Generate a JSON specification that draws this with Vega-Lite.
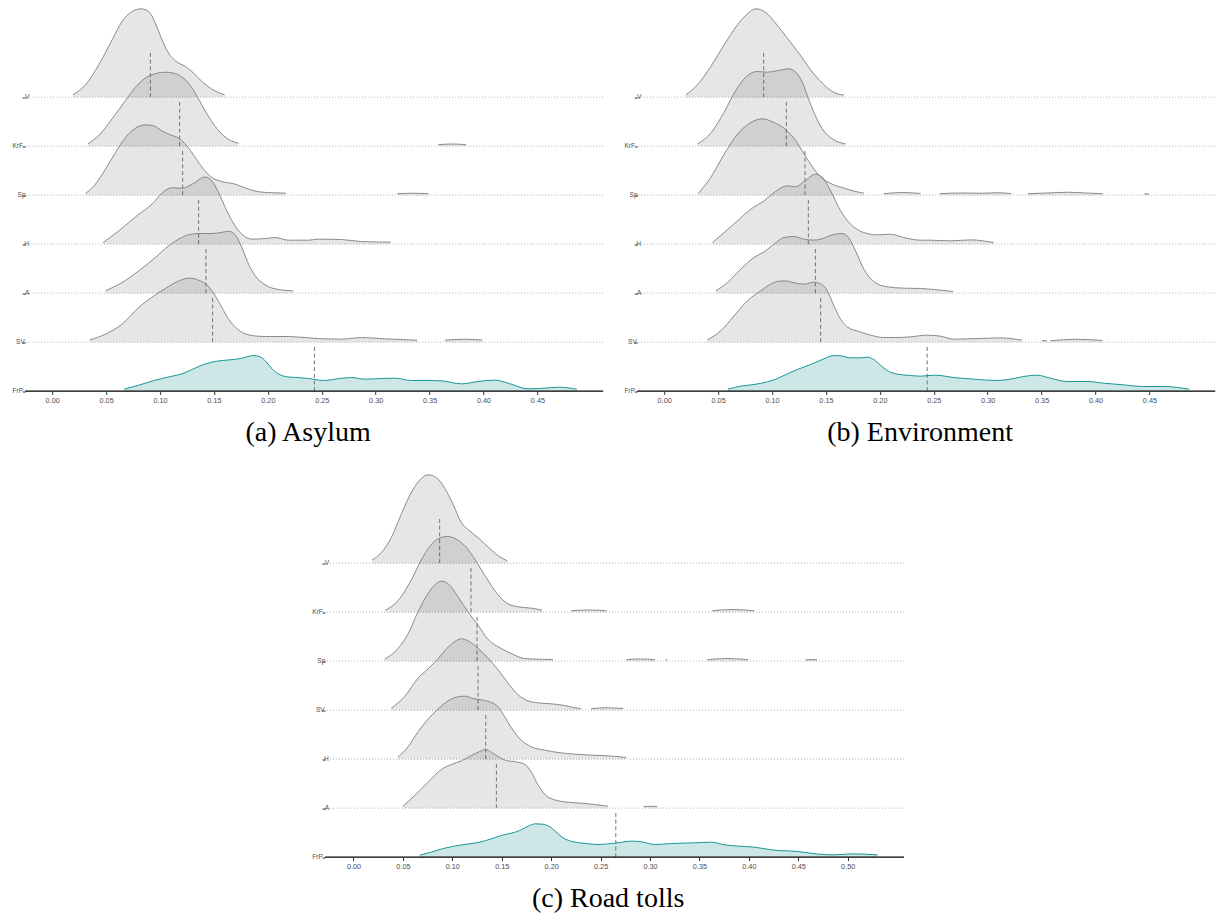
{
"$schema":"https://vega.github.io/schema/vega-lite/v6.json",
"autosize":{"type":"pad"},
"padding":{"left":12,"top":6.5,"right":0,"bottom":0},
"background":"white",
"config":{"view":{"stroke":null},"font":"Liberation Sans"},
"datasets":{
"asylum":[
{"p":"V","s":0,"x":0.0192,"d":0.48},{"p":"V","s":0,"x":0.0309,"d":2.53},{"p":"V","s":0,"x":0.0432,"d":6.64},{"p":"V","s":0,"x":0.0556,"d":11.78},{"p":"V","s":0,"x":0.0648,"d":15.55},{"p":"V","s":0,"x":0.0741,"d":17.6},{"p":"V","s":0,"x":0.0827,"d":18.15},{"p":"V","s":0,"x":0.0895,"d":17.6},{"p":"V","s":0,"x":0.0957,"d":15.2},{"p":"V","s":0,"x":0.1019,"d":11.78},{"p":"V","s":0,"x":0.108,"d":9.04},{"p":"V","s":0,"x":0.1142,"d":7.47},{"p":"V","s":0,"x":0.1235,"d":6.3},{"p":"V","s":0,"x":0.1296,"d":5.27},{"p":"V","s":0,"x":0.1389,"d":3.22},{"p":"V","s":0,"x":0.1481,"d":1.64},{"p":"V","s":0,"x":0.16,"d":0.48},
{"p":"KrF","s":0,"x":0.0333,"d":0.48},{"p":"KrF","s":0,"x":0.0432,"d":2.19},{"p":"KrF","s":0,"x":0.0556,"d":5.62},{"p":"KrF","s":0,"x":0.068,"d":9.38},{"p":"KrF","s":0,"x":0.0772,"d":12.1},{"p":"KrF","s":0,"x":0.0865,"d":14.0},{"p":"KrF","s":0,"x":0.0957,"d":14.9},{"p":"KrF","s":0,"x":0.105,"d":15.2},{"p":"KrF","s":0,"x":0.1127,"d":15.0},{"p":"KrF","s":0,"x":0.1204,"d":14.2},{"p":"KrF","s":0,"x":0.1281,"d":12.5},{"p":"KrF","s":0,"x":0.1358,"d":9.7},{"p":"KrF","s":0,"x":0.1435,"d":6.64},{"p":"KrF","s":0,"x":0.1513,"d":4.04},{"p":"KrF","s":0,"x":0.1605,"d":1.85},{"p":"KrF","s":0,"x":0.1728,"d":0.62},
{"p":"KrF","s":1,"x":0.358,"d":0.3},{"p":"KrF","s":1,"x":0.371,"d":0.45},{"p":"KrF","s":1,"x":0.384,"d":0.3},
{"p":"Sp","s":0,"x":0.0309,"d":0.34},{"p":"Sp","s":0,"x":0.0401,"d":2.26},{"p":"Sp","s":0,"x":0.0494,"d":5.34},{"p":"Sp","s":0,"x":0.0587,"d":8.77},{"p":"Sp","s":0,"x":0.068,"d":11.85},{"p":"Sp","s":0,"x":0.0772,"d":13.77},{"p":"Sp","s":0,"x":0.0865,"d":14.45},{"p":"Sp","s":0,"x":0.0942,"d":14.25},{"p":"Sp","s":0,"x":0.1019,"d":13.2},{"p":"Sp","s":0,"x":0.1096,"d":12.4},{"p":"Sp","s":0,"x":0.1173,"d":11.7},{"p":"Sp","s":0,"x":0.125,"d":10.1},{"p":"Sp","s":0,"x":0.1327,"d":7.74},{"p":"Sp","s":0,"x":0.1404,"d":5.34},{"p":"Sp","s":0,"x":0.1481,"d":3.63},{"p":"Sp","s":0,"x":0.1574,"d":2.8},{"p":"Sp","s":0,"x":0.1698,"d":2.26},{"p":"Sp","s":0,"x":0.1821,"d":1.23},{"p":"Sp","s":0,"x":0.1944,"d":0.62},{"p":"Sp","s":0,"x":0.2068,"d":0.48},{"p":"Sp","s":0,"x":0.2167,"d":0.41},
{"p":"Sp","s":1,"x":0.32,"d":0.3},{"p":"Sp","s":1,"x":0.334,"d":0.4},{"p":"Sp","s":1,"x":0.349,"d":0.3},
{"p":"H","s":0,"x":0.0472,"d":0.33},{"p":"H","s":0,"x":0.0618,"d":2.73},{"p":"H","s":0,"x":0.0803,"d":6.16},{"p":"H","s":0,"x":0.0926,"d":8.22},{"p":"H","s":0,"x":0.1019,"d":10.5},{"p":"H","s":0,"x":0.1111,"d":11.6},{"p":"H","s":0,"x":0.1204,"d":11.5},{"p":"H","s":0,"x":0.1296,"d":12.3},{"p":"H","s":0,"x":0.142,"d":13.8},{"p":"H","s":0,"x":0.1481,"d":13.0},{"p":"H","s":0,"x":0.1544,"d":10.6},{"p":"H","s":0,"x":0.1606,"d":7.5},{"p":"H","s":0,"x":0.1667,"d":4.8},{"p":"H","s":0,"x":0.1759,"d":2.05},{"p":"H","s":0,"x":0.1852,"d":1.03},{"p":"H","s":0,"x":0.1976,"d":1.15},{"p":"H","s":0,"x":0.2069,"d":1.36},{"p":"H","s":0,"x":0.219,"d":0.82},{"p":"H","s":0,"x":0.2377,"d":0.82},{"p":"H","s":0,"x":0.2469,"d":1.03},{"p":"H","s":0,"x":0.2685,"d":0.95},{"p":"H","s":0,"x":0.287,"d":0.53},{"p":"H","s":0,"x":0.3139,"d":0.41},
{"p":"A","s":0,"x":0.0494,"d":0.48},{"p":"A","s":0,"x":0.0648,"d":2.19},{"p":"A","s":0,"x":0.0803,"d":4.59},{"p":"A","s":0,"x":0.0957,"d":7.33},{"p":"A","s":0,"x":0.108,"d":9.73},{"p":"A","s":0,"x":0.1173,"d":11.1},{"p":"A","s":0,"x":0.1266,"d":12.0},{"p":"A","s":0,"x":0.1374,"d":12.26},{"p":"A","s":0,"x":0.1481,"d":12.26},{"p":"A","s":0,"x":0.1574,"d":12.5},{"p":"A","s":0,"x":0.1636,"d":12.74},{"p":"A","s":0,"x":0.1704,"d":11.8},{"p":"A","s":0,"x":0.1759,"d":9.4},{"p":"A","s":0,"x":0.1821,"d":5.96},{"p":"A","s":0,"x":0.1883,"d":3.56},{"p":"A","s":0,"x":0.1976,"d":1.71},{"p":"A","s":0,"x":0.2099,"d":0.75},{"p":"A","s":0,"x":0.2235,"d":0.48},
{"p":"SV","s":0,"x":0.0349,"d":0.48},{"p":"SV","s":0,"x":0.0494,"d":1.64},{"p":"SV","s":0,"x":0.0648,"d":3.7},{"p":"SV","s":0,"x":0.0803,"d":7.12},{"p":"SV","s":0,"x":0.0957,"d":9.73},{"p":"SV","s":0,"x":0.108,"d":11.44},{"p":"SV","s":0,"x":0.1189,"d":12.74},{"p":"SV","s":0,"x":0.1272,"d":13.15},{"p":"SV","s":0,"x":0.1358,"d":12.74},{"p":"SV","s":0,"x":0.1444,"d":11.58},{"p":"SV","s":0,"x":0.1513,"d":9.52},{"p":"SV","s":0,"x":0.1574,"d":7.12},{"p":"SV","s":0,"x":0.1636,"d":4.73},{"p":"SV","s":0,"x":0.1713,"d":2.81},{"p":"SV","s":0,"x":0.1821,"d":1.5},{"p":"SV","s":0,"x":0.1976,"d":1.16},{"p":"SV","s":0,"x":0.2192,"d":1.16},{"p":"SV","s":0,"x":0.2284,"d":1.05},{"p":"SV","s":0,"x":0.2469,"d":0.74},{"p":"SV","s":0,"x":0.2685,"d":0.62},{"p":"SV","s":0,"x":0.287,"d":0.95},{"p":"SV","s":0,"x":0.3087,"d":0.68},{"p":"SV","s":0,"x":0.3386,"d":0.41},
{"p":"SV","s":1,"x":0.3643,"d":0.4},{"p":"SV","s":1,"x":0.381,"d":0.6},{"p":"SV","s":1,"x":0.3988,"d":0.45},
{"p":"FrP","s":0,"x":0.0667,"d":0.41},{"p":"FrP","s":0,"x":0.0803,"d":1.23},{"p":"FrP","s":0,"x":0.0957,"d":2.26},{"p":"FrP","s":0,"x":0.1111,"d":3.08},{"p":"FrP","s":0,"x":0.1204,"d":3.56},{"p":"FrP","s":0,"x":0.1296,"d":4.45},{"p":"FrP","s":0,"x":0.1389,"d":5.34},{"p":"FrP","s":0,"x":0.1481,"d":5.96},{"p":"FrP","s":0,"x":0.1574,"d":6.3},{"p":"FrP","s":0,"x":0.1682,"d":6.5},{"p":"FrP","s":0,"x":0.1744,"d":6.7},{"p":"FrP","s":0,"x":0.1806,"d":7.05},{"p":"FrP","s":0,"x":0.1867,"d":7.33},{"p":"FrP","s":0,"x":0.193,"d":7.05},{"p":"FrP","s":0,"x":0.1985,"d":6.03},{"p":"FrP","s":0,"x":0.2044,"d":4.45},{"p":"FrP","s":0,"x":0.2115,"d":3.36},{"p":"FrP","s":0,"x":0.2207,"d":2.88},{"p":"FrP","s":0,"x":0.2284,"d":2.8},{"p":"FrP","s":0,"x":0.2377,"d":2.6},{"p":"FrP","s":0,"x":0.2516,"d":2.19},{"p":"FrP","s":0,"x":0.2685,"d":2.67},{"p":"FrP","s":0,"x":0.2778,"d":2.8},{"p":"FrP","s":0,"x":0.2902,"d":2.47},{"p":"FrP","s":0,"x":0.3041,"d":2.6},{"p":"FrP","s":0,"x":0.318,"d":2.67},{"p":"FrP","s":0,"x":0.3333,"d":2.19},{"p":"FrP","s":0,"x":0.3488,"d":2.19},{"p":"FrP","s":0,"x":0.3611,"d":2.12},{"p":"FrP","s":0,"x":0.3796,"d":1.5},{"p":"FrP","s":0,"x":0.3951,"d":1.99},{"p":"FrP","s":0,"x":0.4106,"d":2.26},{"p":"FrP","s":0,"x":0.4229,"d":1.64},{"p":"FrP","s":0,"x":0.4414,"d":0.48},{"p":"FrP","s":0,"x":0.4568,"d":0.62},{"p":"FrP","s":0,"x":0.4692,"d":0.82},{"p":"FrP","s":0,"x":0.4865,"d":0.41},
{"p":"V","x":0.0911},{"p":"KrF","x":0.1182},{"p":"Sp","x":0.121},{"p":"H","x":0.1358},{"p":"A","x":0.1426},{"p":"SV","x":0.1488},{"p":"FrP","x":0.2432}
],
"env":[
{"p":"V","s":0,"x":0.0201,"d":0.48},{"p":"V","s":0,"x":0.0309,"d":2.53},{"p":"V","s":0,"x":0.0432,"d":6.3},{"p":"V","s":0,"x":0.0556,"d":10.75},{"p":"V","s":0,"x":0.068,"d":14.86},{"p":"V","s":0,"x":0.0772,"d":17.12},{"p":"V","s":0,"x":0.0849,"d":18.15},{"p":"V","s":0,"x":0.0942,"d":17.4},{"p":"V","s":0,"x":0.1034,"d":15.2},{"p":"V","s":0,"x":0.1142,"d":12.12},{"p":"V","s":0,"x":0.125,"d":9.04},{"p":"V","s":0,"x":0.1358,"d":5.62},{"p":"V","s":0,"x":0.1467,"d":2.88},{"p":"V","s":0,"x":0.1559,"d":1.16},{"p":"V","s":0,"x":0.1667,"d":0.41},
{"p":"KrF","s":0,"x":0.0309,"d":0.48},{"p":"KrF","s":0,"x":0.0432,"d":2.67},{"p":"KrF","s":0,"x":0.0556,"d":6.99},{"p":"KrF","s":0,"x":0.0664,"d":11.44},{"p":"KrF","s":0,"x":0.0772,"d":14.5},{"p":"KrF","s":0,"x":0.0864,"d":15.34},{"p":"KrF","s":0,"x":0.0957,"d":15.2},{"p":"KrF","s":0,"x":0.105,"d":15.5},{"p":"KrF","s":0,"x":0.1157,"d":15.9},{"p":"KrF","s":0,"x":0.1228,"d":15.0},{"p":"KrF","s":0,"x":0.1281,"d":13.15},{"p":"KrF","s":0,"x":0.1333,"d":10.07},{"p":"KrF","s":0,"x":0.1395,"d":6.64},{"p":"KrF","s":0,"x":0.1467,"d":3.56},{"p":"KrF","s":0,"x":0.1559,"d":1.5},{"p":"KrF","s":0,"x":0.1682,"d":0.48},
{"p":"Sp","s":0,"x":0.0315,"d":0.34},{"p":"Sp","s":0,"x":0.0432,"d":3.63},{"p":"Sp","s":0,"x":0.0556,"d":8.42},{"p":"Sp","s":0,"x":0.068,"d":12.53},{"p":"Sp","s":0,"x":0.0803,"d":14.93},{"p":"Sp","s":0,"x":0.0911,"d":15.68},{"p":"Sp","s":0,"x":0.1019,"d":14.93},{"p":"Sp","s":0,"x":0.1111,"d":13.77},{"p":"Sp","s":0,"x":0.1198,"d":11.85},{"p":"Sp","s":0,"x":0.1281,"d":9.1},{"p":"Sp","s":0,"x":0.1358,"d":6.37},{"p":"Sp","s":0,"x":0.1451,"d":3.77},{"p":"Sp","s":0,"x":0.1559,"d":2.26},{"p":"Sp","s":0,"x":0.1667,"d":1.44},{"p":"Sp","s":0,"x":0.1775,"d":0.75},{"p":"Sp","s":0,"x":0.1852,"d":0.41},
{"p":"Sp","s":1,"x":0.2037,"d":0.3},{"p":"Sp","s":1,"x":0.221,"d":0.55},{"p":"Sp","s":1,"x":0.2377,"d":0.35},
{"p":"Sp","s":2,"x":0.2556,"d":0.3},{"p":"Sp","s":2,"x":0.275,"d":0.45},{"p":"Sp","s":2,"x":0.295,"d":0.4},{"p":"Sp","s":2,"x":0.31,"d":0.5},{"p":"Sp","s":2,"x":0.3217,"d":0.3},
{"p":"Sp","s":3,"x":0.3374,"d":0.3},{"p":"Sp","s":3,"x":0.355,"d":0.45},{"p":"Sp","s":3,"x":0.375,"d":0.6},{"p":"Sp","s":3,"x":0.39,"d":0.45},{"p":"Sp","s":3,"x":0.4069,"d":0.3},
{"p":"Sp","s":4,"x":0.4454,"d":0.25},{"p":"Sp","s":4,"x":0.4497,"d":0.25},
{"p":"H","s":0,"x":0.0448,"d":0.33},{"p":"H","s":0,"x":0.0556,"d":2.38},{"p":"H","s":0,"x":0.068,"d":4.79},{"p":"H","s":0,"x":0.0803,"d":7.19},{"p":"H","s":0,"x":0.0926,"d":8.9},{"p":"H","s":0,"x":0.1019,"d":10.6},{"p":"H","s":0,"x":0.1142,"d":11.98},{"p":"H","s":0,"x":0.1219,"d":11.77},{"p":"H","s":0,"x":0.1296,"d":12.86},{"p":"H","s":0,"x":0.1405,"d":14.38},{"p":"H","s":0,"x":0.1481,"d":13.36},{"p":"H","s":0,"x":0.1544,"d":10.95},{"p":"H","s":0,"x":0.1636,"d":6.84},{"p":"H","s":0,"x":0.1729,"d":4.1},{"p":"H","s":0,"x":0.1852,"d":2.38},{"p":"H","s":0,"x":0.1976,"d":1.91},{"p":"H","s":0,"x":0.2099,"d":2.05},{"p":"H","s":0,"x":0.2222,"d":1.36},{"p":"H","s":0,"x":0.2377,"d":0.82},{"p":"H","s":0,"x":0.2469,"d":0.82},{"p":"H","s":0,"x":0.2655,"d":0.68},{"p":"H","s":0,"x":0.284,"d":0.88},{"p":"H","s":0,"x":0.3056,"d":0.33},
{"p":"A","s":0,"x":0.0479,"d":0.48},{"p":"A","s":0,"x":0.0587,"d":2.19},{"p":"A","s":0,"x":0.071,"d":4.93},{"p":"A","s":0,"x":0.0833,"d":7.33},{"p":"A","s":0,"x":0.0926,"d":8.49},{"p":"A","s":0,"x":0.1019,"d":10.07},{"p":"A","s":0,"x":0.1111,"d":11.44},{"p":"A","s":0,"x":0.1204,"d":11.64},{"p":"A","s":0,"x":0.1296,"d":11.1},{"p":"A","s":0,"x":0.1389,"d":10.9},{"p":"A","s":0,"x":0.1481,"d":11.3},{"p":"A","s":0,"x":0.1559,"d":12.0},{"p":"A","s":0,"x":0.1652,"d":12.26},{"p":"A","s":0,"x":0.1713,"d":11.3},{"p":"A","s":0,"x":0.1775,"d":8.7},{"p":"A","s":0,"x":0.1852,"d":4.93},{"p":"A","s":0,"x":0.1944,"d":2.4},{"p":"A","s":0,"x":0.2068,"d":1.3},{"p":"A","s":0,"x":0.2222,"d":1.03},{"p":"A","s":0,"x":0.2377,"d":0.96},{"p":"A","s":0,"x":0.2469,"d":0.82},{"p":"A","s":0,"x":0.268,"d":0.34},
{"p":"SV","s":0,"x":0.0401,"d":0.48},{"p":"SV","s":0,"x":0.0525,"d":2.33},{"p":"SV","s":0,"x":0.0648,"d":5.41},{"p":"SV","s":0,"x":0.0772,"d":8.49},{"p":"SV","s":0,"x":0.0895,"d":10.55},{"p":"SV","s":0,"x":0.0988,"d":11.92},{"p":"SV","s":0,"x":0.1065,"d":12.53},{"p":"SV","s":0,"x":0.1127,"d":12.6},{"p":"SV","s":0,"x":0.1204,"d":12.2},{"p":"SV","s":0,"x":0.1296,"d":11.92},{"p":"SV","s":0,"x":0.1389,"d":12.33},{"p":"SV","s":0,"x":0.1457,"d":11.92},{"p":"SV","s":0,"x":0.1513,"d":10.55},{"p":"SV","s":0,"x":0.1574,"d":7.47},{"p":"SV","s":0,"x":0.1636,"d":4.73},{"p":"SV","s":0,"x":0.1698,"d":3.15},{"p":"SV","s":0,"x":0.1806,"d":2.19},{"p":"SV","s":0,"x":0.1914,"d":1.44},{"p":"SV","s":0,"x":0.2037,"d":0.96},{"p":"SV","s":0,"x":0.2161,"d":0.96},{"p":"SV","s":0,"x":0.2284,"d":1.1},{"p":"SV","s":0,"x":0.2439,"d":1.44},{"p":"SV","s":0,"x":0.2562,"d":1.23},{"p":"SV","s":0,"x":0.2685,"d":0.62},{"p":"SV","s":0,"x":0.2902,"d":0.74},{"p":"SV","s":0,"x":0.3118,"d":0.88},{"p":"SV","s":0,"x":0.3318,"d":0.41},
{"p":"SV","s":1,"x":0.3504,"d":0.3},{"p":"SV","s":1,"x":0.355,"d":0.3},
{"p":"SV","s":2,"x":0.358,"d":0.3},{"p":"SV","s":2,"x":0.3828,"d":0.6},{"p":"SV","s":2,"x":0.4065,"d":0.35},
{"p":"FrP","s":0,"x":0.0593,"d":0.41},{"p":"FrP","s":0,"x":0.071,"d":1.03},{"p":"FrP","s":0,"x":0.0833,"d":1.37},{"p":"FrP","s":0,"x":0.0957,"d":1.92},{"p":"FrP","s":0,"x":0.105,"d":2.6},{"p":"FrP","s":0,"x":0.1142,"d":3.56},{"p":"FrP","s":0,"x":0.1235,"d":4.45},{"p":"FrP","s":0,"x":0.1358,"d":5.48},{"p":"FrP","s":0,"x":0.1481,"d":6.64},{"p":"FrP","s":0,"x":0.1574,"d":7.33},{"p":"FrP","s":0,"x":0.1636,"d":7.26},{"p":"FrP","s":0,"x":0.1729,"d":6.85},{"p":"FrP","s":0,"x":0.1821,"d":6.85},{"p":"FrP","s":0,"x":0.1883,"d":6.99},{"p":"FrP","s":0,"x":0.1944,"d":6.5},{"p":"FrP","s":0,"x":0.2006,"d":5.34},{"p":"FrP","s":0,"x":0.2068,"d":4.25},{"p":"FrP","s":0,"x":0.2161,"d":3.5},{"p":"FrP","s":0,"x":0.2284,"d":3.22},{"p":"FrP","s":0,"x":0.2377,"d":3.08},{"p":"FrP","s":0,"x":0.2516,"d":3.29},{"p":"FrP","s":0,"x":0.2685,"d":2.81},{"p":"FrP","s":0,"x":0.287,"d":2.47},{"p":"FrP","s":0,"x":0.3087,"d":2.19},{"p":"FrP","s":0,"x":0.321,"d":2.47},{"p":"FrP","s":0,"x":0.3333,"d":3.01},{"p":"FrP","s":0,"x":0.3457,"d":3.29},{"p":"FrP","s":0,"x":0.358,"d":2.67},{"p":"FrP","s":0,"x":0.3735,"d":1.99},{"p":"FrP","s":0,"x":0.392,"d":1.99},{"p":"FrP","s":0,"x":0.4074,"d":1.64},{"p":"FrP","s":0,"x":0.4259,"d":1.3},{"p":"FrP","s":0,"x":0.4444,"d":0.96},{"p":"FrP","s":0,"x":0.463,"d":0.96},{"p":"FrP","s":0,"x":0.487,"d":0.41},
{"p":"V","x":0.0923},{"p":"KrF","x":0.1133},{"p":"Sp","x":0.1306},{"p":"H","x":0.1337},{"p":"A","x":0.1402},{"p":"SV","x":0.1451},{"p":"FrP","x":0.2439}
],
"road":[
{"p":"V","s":0,"x":0.0187,"d":0.62},{"p":"V","s":0,"x":0.0282,"d":2.19},{"p":"V","s":0,"x":0.0383,"d":5.27},{"p":"V","s":0,"x":0.0484,"d":10.07},{"p":"V","s":0,"x":0.0585,"d":14.52},{"p":"V","s":0,"x":0.067,"d":17.05},{"p":"V","s":0,"x":0.0754,"d":18.15},{"p":"V","s":0,"x":0.0838,"d":17.6},{"p":"V","s":0,"x":0.0923,"d":15.4},{"p":"V","s":0,"x":0.1007,"d":12.12},{"p":"V","s":0,"x":0.1091,"d":8.36},{"p":"V","s":0,"x":0.1176,"d":6.64},{"p":"V","s":0,"x":0.1277,"d":4.93},{"p":"V","s":0,"x":0.1379,"d":3.01},{"p":"V","s":0,"x":0.148,"d":1.3},{"p":"V","s":0,"x":0.1557,"d":0.48},
{"p":"KrF","s":0,"x":0.0322,"d":0.41},{"p":"KrF","s":0,"x":0.045,"d":2.33},{"p":"KrF","s":0,"x":0.0585,"d":6.64},{"p":"KrF","s":0,"x":0.0686,"d":10.75},{"p":"KrF","s":0,"x":0.0771,"d":13.5},{"p":"KrF","s":0,"x":0.0855,"d":15.07},{"p":"KrF","s":0,"x":0.0949,"d":15.55},{"p":"KrF","s":0,"x":0.1041,"d":15.0},{"p":"KrF","s":0,"x":0.1125,"d":13.7},{"p":"KrF","s":0,"x":0.121,"d":11.44},{"p":"KrF","s":0,"x":0.1294,"d":8.7},{"p":"KrF","s":0,"x":0.1379,"d":5.96},{"p":"KrF","s":0,"x":0.1463,"d":3.56},{"p":"KrF","s":0,"x":0.1557,"d":1.78},{"p":"KrF","s":0,"x":0.1665,"d":1.1},{"p":"KrF","s":0,"x":0.18,"d":0.82},{"p":"KrF","s":0,"x":0.1908,"d":0.41},
{"p":"KrF","s":1,"x":0.2204,"d":0.3},{"p":"KrF","s":1,"x":0.238,"d":0.45},{"p":"KrF","s":1,"x":0.256,"d":0.3},
{"p":"KrF","s":2,"x":0.363,"d":0.3},{"p":"KrF","s":2,"x":0.384,"d":0.55},{"p":"KrF","s":2,"x":0.4055,"d":0.3},
{"p":"Sp","s":0,"x":0.0316,"d":0.41},{"p":"Sp","s":0,"x":0.045,"d":2.59},{"p":"Sp","s":0,"x":0.0552,"d":5.61},{"p":"Sp","s":0,"x":0.0653,"d":10.13},{"p":"Sp","s":0,"x":0.0754,"d":13.9},{"p":"Sp","s":0,"x":0.0838,"d":15.94},{"p":"Sp","s":0,"x":0.0896,"d":16.44},{"p":"Sp","s":0,"x":0.0974,"d":15.6},{"p":"Sp","s":0,"x":0.1058,"d":13.2},{"p":"Sp","s":0,"x":0.1159,"d":10.13},{"p":"Sp","s":0,"x":0.126,"d":7.4},{"p":"Sp","s":0,"x":0.1361,"d":4.5},{"p":"Sp","s":0,"x":0.1496,"d":2.59},{"p":"Sp","s":0,"x":0.1597,"d":1.56},{"p":"Sp","s":0,"x":0.1733,"d":0.53},{"p":"Sp","s":0,"x":0.1867,"d":0.41},{"p":"Sp","s":0,"x":0.2019,"d":0.33},
{"p":"Sp","s":1,"x":0.276,"d":0.3},{"p":"Sp","s":1,"x":0.29,"d":0.45},{"p":"Sp","s":1,"x":0.305,"d":0.3},
{"p":"Sp","s":2,"x":0.3156,"d":0.25},{"p":"Sp","s":2,"x":0.3176,"d":0.25},
{"p":"Sp","s":3,"x":0.358,"d":0.3},{"p":"Sp","s":3,"x":0.378,"d":0.55},{"p":"Sp","s":3,"x":0.3993,"d":0.3},
{"p":"Sp","s":4,"x":0.4573,"d":0.3},{"p":"Sp","s":4,"x":0.4691,"d":0.3},
{"p":"SV","s":0,"x":0.0383,"d":0.41},{"p":"SV","s":0,"x":0.0518,"d":2.81},{"p":"SV","s":0,"x":0.0653,"d":6.58},{"p":"SV","s":0,"x":0.0754,"d":8.49},{"p":"SV","s":0,"x":0.0855,"d":10.55},{"p":"SV","s":0,"x":0.094,"d":12.6},{"p":"SV","s":0,"x":0.1024,"d":14.1},{"p":"SV","s":0,"x":0.1091,"d":14.66},{"p":"SV","s":0,"x":0.1159,"d":14.25},{"p":"SV","s":0,"x":0.126,"d":12.74},{"p":"SV","s":0,"x":0.1361,"d":10.68},{"p":"SV","s":0,"x":0.1463,"d":8.29},{"p":"SV","s":0,"x":0.1564,"d":5.55},{"p":"SV","s":0,"x":0.1665,"d":3.15},{"p":"SV","s":0,"x":0.1766,"d":1.92},{"p":"SV","s":0,"x":0.1867,"d":1.5},{"p":"SV","s":0,"x":0.2002,"d":1.3},{"p":"SV","s":0,"x":0.2138,"d":0.96},{"p":"SV","s":0,"x":0.2239,"d":0.48},{"p":"SV","s":0,"x":0.23,"d":0.34},
{"p":"SV","s":1,"x":0.2405,"d":0.3},{"p":"SV","s":1,"x":0.255,"d":0.5},{"p":"SV","s":1,"x":0.273,"d":0.35},
{"p":"H","s":0,"x":0.045,"d":0.41},{"p":"H","s":0,"x":0.0552,"d":2.53},{"p":"H","s":0,"x":0.0653,"d":5.62},{"p":"H","s":0,"x":0.0754,"d":8.22},{"p":"H","s":0,"x":0.0855,"d":10.27},{"p":"H","s":0,"x":0.0956,"d":11.99},{"p":"H","s":0,"x":0.1041,"d":12.74},{"p":"H","s":0,"x":0.1125,"d":12.95},{"p":"H","s":0,"x":0.121,"d":12.47},{"p":"H","s":0,"x":0.1311,"d":12.12},{"p":"H","s":0,"x":0.1395,"d":11.64},{"p":"H","s":0,"x":0.1463,"d":10.75},{"p":"H","s":0,"x":0.153,"d":8.7},{"p":"H","s":0,"x":0.1614,"d":5.96},{"p":"H","s":0,"x":0.1698,"d":3.9},{"p":"H","s":0,"x":0.18,"d":2.53},{"p":"H","s":0,"x":0.1935,"d":1.85},{"p":"H","s":0,"x":0.207,"d":1.37},{"p":"H","s":0,"x":0.2239,"d":1.03},{"p":"H","s":0,"x":0.2407,"d":0.82},{"p":"H","s":0,"x":0.2576,"d":0.68},{"p":"H","s":0,"x":0.2761,"d":0.34},
{"p":"A","s":0,"x":0.0501,"d":0.41},{"p":"A","s":0,"x":0.0619,"d":2.6},{"p":"A","s":0,"x":0.0754,"d":5.34},{"p":"A","s":0,"x":0.0889,"d":7.95},{"p":"A","s":0,"x":0.099,"d":8.97},{"p":"A","s":0,"x":0.1091,"d":9.73},{"p":"A","s":0,"x":0.1192,"d":10.82},{"p":"A","s":0,"x":0.1277,"d":11.64},{"p":"A","s":0,"x":0.1334,"d":12.05},{"p":"A","s":0,"x":0.1395,"d":11.5},{"p":"A","s":0,"x":0.1463,"d":10.62},{"p":"A","s":0,"x":0.1547,"d":9.79},{"p":"A","s":0,"x":0.1665,"d":9.45},{"p":"A","s":0,"x":0.1739,"d":8.9},{"p":"A","s":0,"x":0.18,"d":7.4},{"p":"A","s":0,"x":0.1867,"d":4.79},{"p":"A","s":0,"x":0.1941,"d":2.74},{"p":"A","s":0,"x":0.2036,"d":1.71},{"p":"A","s":0,"x":0.2171,"d":1.23},{"p":"A","s":0,"x":0.2306,"d":1.03},{"p":"A","s":0,"x":0.2441,"d":0.75},{"p":"A","s":0,"x":0.2576,"d":0.41},
{"p":"A","s":1,"x":0.2937,"d":0.3},{"p":"A","s":1,"x":0.3006,"d":0.4},{"p":"A","s":1,"x":0.3075,"d":0.3},
{"p":"FrP","s":0,"x":0.067,"d":0.41},{"p":"FrP","s":0,"x":0.0787,"d":1.03},{"p":"FrP","s":0,"x":0.0923,"d":1.85},{"p":"FrP","s":0,"x":0.1058,"d":2.4},{"p":"FrP","s":0,"x":0.1192,"d":2.81},{"p":"FrP","s":0,"x":0.1294,"d":3.15},{"p":"FrP","s":0,"x":0.1395,"d":3.77},{"p":"FrP","s":0,"x":0.1496,"d":4.45},{"p":"FrP","s":0,"x":0.1597,"d":4.93},{"p":"FrP","s":0,"x":0.1682,"d":5.48},{"p":"FrP","s":0,"x":0.1766,"d":6.37},{"p":"FrP","s":0,"x":0.184,"d":6.85},{"p":"FrP","s":0,"x":0.1908,"d":6.78},{"p":"FrP","s":0,"x":0.1976,"d":6.37},{"p":"FrP","s":0,"x":0.2043,"d":5.34},{"p":"FrP","s":0,"x":0.211,"d":4.11},{"p":"FrP","s":0,"x":0.2188,"d":3.36},{"p":"FrP","s":0,"x":0.2289,"d":2.95},{"p":"FrP","s":0,"x":0.2424,"d":2.67},{"p":"FrP","s":0,"x":0.2475,"d":2.6},{"p":"FrP","s":0,"x":0.2644,"d":2.88},{"p":"FrP","s":0,"x":0.2812,"d":3.29},{"p":"FrP","s":0,"x":0.2913,"d":3.15},{"p":"FrP","s":0,"x":0.3049,"d":2.6},{"p":"FrP","s":0,"x":0.3217,"d":2.81},{"p":"FrP","s":0,"x":0.3453,"d":2.95},{"p":"FrP","s":0,"x":0.3621,"d":3.08},{"p":"FrP","s":0,"x":0.3757,"d":2.53},{"p":"FrP","s":0,"x":0.3892,"d":2.26},{"p":"FrP","s":0,"x":0.4061,"d":2.05},{"p":"FrP","s":0,"x":0.4229,"d":1.5},{"p":"FrP","s":0,"x":0.4499,"d":1.16},{"p":"FrP","s":0,"x":0.4701,"d":0.62},{"p":"FrP","s":0,"x":0.487,"d":0.48},{"p":"FrP","s":0,"x":0.5039,"d":0.68},{"p":"FrP","s":0,"x":0.5302,"d":0.48},
{"p":"V","x":0.0872},{"p":"KrF","x":0.1189},{"p":"Sp","x":0.125},{"p":"SV","x":0.126},{"p":"H","x":0.1338},{"p":"A","x":0.1446},{"p":"FrP","x":0.2654}
]
},
"vconcat":[
{"hconcat":[
{"data":{"name":"asylum"},
"facet":{"row":{"field":"p","type":"nominal","sort":["V","KrF","Sp","H","A","SV","FrP"],"title":null,"header":{"labelAngle":0,"labelAlign":"right","labelAnchor":"start","labelBaseline":"middle","labelOrient":"left","labelPadding":-12,"labelFont":"Liberation Sans","labelFontSize":6.6,"labelColor":"#4d4d4d"}}},
"spacing":0,"bounds":"flush",
"title":{"text":"(a) Asylum","orient":"bottom","anchor":"middle","frame":"bounds","font":"Liberation Serif","fontSize":28,"fontWeight":"normal","color":"#000000","offset":15},
"spec":{"width":578,"height":48.67,
"layer":[
{"transform":[{"filter":"!isValid(datum.d) && datum.p != 'FrP'"}],"mark":{"type":"rule","color":"#a0a0a0","strokeWidth":0.8,"strokeDash":[1,2]},"encoding":{"y":{"datum":0,"type":"quantitative","scale":{"domain":[0,10],"nice":false},"axis":{"values":[0],"labels":false,"domain":false,"ticks":true,"tickSize":3,"tickColor":"#333333","title":null,"grid":false}}}},
{"transform":[{"filter":"isValid(datum.d) && datum.p != 'FrP'"}],"mark":{"type":"area","interpolate":"monotone","color":"#333333","fillOpacity":0.12,"line":{"color":"#7f7f7f","strokeWidth":0.9}},"encoding":{"x":{"field":"x","type":"quantitative","scale":{"domain":[-0.025,0.511],"nice":false,"zero":false},"axis":{"values":[0,0.05,0.1,0.15,0.2,0.25,0.3,0.35,0.4,0.45],"format":".2f","title":null,"grid":false,"domain":false,"tickColor":"#333333","tickSize":3,"labelFontSize":7.3,"labelColor":"#4d4d4d","labelFont":"Liberation Sans","labelPadding":2,"labelFlush":false}},"y":{"field":"d","type":"quantitative","stack":null},"detail":{"field":"s","type":"nominal"}}},
{"transform":[{"filter":"isValid(datum.d) && datum.p == 'FrP'"}],"mark":{"type":"area","interpolate":"monotone","color":"#cde7e7","fillOpacity":1,"line":{"color":"#1a9696","strokeWidth":1}},"encoding":{"x":{"field":"x","type":"quantitative"},"y":{"field":"d","type":"quantitative","stack":null}}},
{"transform":[{"filter":"!isValid(datum.d)"}],"mark":{"type":"rule","color":"#666666","strokeWidth":0.9,"strokeDash":[4,2.7]},"encoding":{"x":{"field":"x","type":"quantitative"},"y":{"datum":0},"y2":{"datum":9.2}}},
{"transform":[{"filter":"!isValid(datum.d) && datum.p == 'FrP'"}],"mark":{"type":"rule","color":"#000000","strokeWidth":1.2},"encoding":{"y":{"datum":0}}}
]}},
{"data":{"name":"env"},
"facet":{"row":{"field":"p","type":"nominal","sort":["V","KrF","Sp","H","A","SV","FrP"],"title":null,"header":{"labelAngle":0,"labelAlign":"right","labelAnchor":"start","labelBaseline":"middle","labelOrient":"left","labelPadding":-12,"labelFont":"Liberation Sans","labelFontSize":6.6,"labelColor":"#4d4d4d"}}},
"spacing":0,"bounds":"flush",
"title":{"text":"(b) Environment","orient":"bottom","anchor":"middle","frame":"bounds","font":"Liberation Serif","fontSize":28,"fontWeight":"normal","color":"#000000","offset":15},
"spec":{"width":578,"height":48.67,
"layer":[
{"transform":[{"filter":"!isValid(datum.d) && datum.p != 'FrP'"}],"mark":{"type":"rule","color":"#a0a0a0","strokeWidth":0.8,"strokeDash":[1,2]},"encoding":{"y":{"datum":0,"type":"quantitative","scale":{"domain":[0,10],"nice":false},"axis":{"values":[0],"labels":false,"domain":false,"ticks":true,"tickSize":3,"tickColor":"#333333","title":null,"grid":false}}}},
{"transform":[{"filter":"isValid(datum.d) && datum.p != 'FrP'"}],"mark":{"type":"area","interpolate":"monotone","color":"#333333","fillOpacity":0.12,"line":{"color":"#7f7f7f","strokeWidth":0.9}},"encoding":{"x":{"field":"x","type":"quantitative","scale":{"domain":[-0.025,0.511],"nice":false,"zero":false},"axis":{"values":[0,0.05,0.1,0.15,0.2,0.25,0.3,0.35,0.4,0.45],"format":".2f","title":null,"grid":false,"domain":false,"tickColor":"#333333","tickSize":3,"labelFontSize":7.3,"labelColor":"#4d4d4d","labelFont":"Liberation Sans","labelPadding":2,"labelFlush":false}},"y":{"field":"d","type":"quantitative","stack":null},"detail":{"field":"s","type":"nominal"}}},
{"transform":[{"filter":"isValid(datum.d) && datum.p == 'FrP'"}],"mark":{"type":"area","interpolate":"monotone","color":"#cde7e7","fillOpacity":1,"line":{"color":"#1a9696","strokeWidth":1}},"encoding":{"x":{"field":"x","type":"quantitative"},"y":{"field":"d","type":"quantitative","stack":null}}},
{"transform":[{"filter":"!isValid(datum.d)"}],"mark":{"type":"rule","color":"#666666","strokeWidth":0.9,"strokeDash":[4,2.7]},"encoding":{"x":{"field":"x","type":"quantitative"},"y":{"datum":0},"y2":{"datum":9.2}}},
{"transform":[{"filter":"!isValid(datum.d) && datum.p == 'FrP'"}],"mark":{"type":"rule","color":"#000000","strokeWidth":1.2},"encoding":{"y":{"datum":0}}}
]}}
],"spacing":20,"resolve":{"scale":{"x":"independent","y":"independent"}}},
{"data":{"name":"road"},
"facet":{"row":{"field":"p","type":"nominal","sort":["V","KrF","Sp","SV","H","A","FrP"],"title":null,"header":{"labelAngle":0,"labelAlign":"right","labelAnchor":"start","labelBaseline":"middle","labelOrient":"left","labelPadding":-12,"labelFont":"Liberation Sans","labelFontSize":6.6,"labelColor":"#4d4d4d"}}},
"spacing":0,"bounds":"flush",
"title":{"text":"(c) Road tolls","orient":"bottom","anchor":"middle","frame":"bounds","font":"Liberation Serif","fontSize":28,"fontWeight":"normal","color":"#000000","offset":15,"dx":-6},
"spec":{"width":579,"height":48.67,
"layer":[
{"transform":[{"filter":"!isValid(datum.d) && datum.p != 'FrP'"}],"mark":{"type":"rule","color":"#a0a0a0","strokeWidth":0.8,"strokeDash":[1,2]},"encoding":{"y":{"datum":0,"type":"quantitative","scale":{"domain":[0,10],"nice":false},"axis":{"values":[0],"labels":false,"domain":false,"ticks":true,"tickSize":3,"tickColor":"#333333","title":null,"grid":false}}}},
{"transform":[{"filter":"isValid(datum.d) && datum.p != 'FrP'"}],"mark":{"type":"area","interpolate":"monotone","color":"#333333","fillOpacity":0.12,"line":{"color":"#7f7f7f","strokeWidth":0.9}},"encoding":{"x":{"field":"x","type":"quantitative","scale":{"domain":[-0.0288,0.557],"nice":false,"zero":false},"axis":{"values":[0,0.05,0.1,0.15,0.2,0.25,0.3,0.35,0.4,0.45,0.5],"format":".2f","title":"MM","titleOpacity":0,"titleX":579,"titleY":1,"titleAlign":"left","titleBaseline":"top","titleFont":"Liberation Sans","titleFontSize":7.2,"titleFontWeight":"normal","grid":false,"domain":false,"tickColor":"#333333","tickSize":3,"labelFontSize":7.3,"labelColor":"#4d4d4d","labelFont":"Liberation Sans","labelPadding":2,"labelFlush":false}},"y":{"field":"d","type":"quantitative","stack":null},"detail":{"field":"s","type":"nominal"}}},
{"transform":[{"filter":"isValid(datum.d) && datum.p == 'FrP'"}],"mark":{"type":"area","interpolate":"monotone","color":"#cde7e7","fillOpacity":1,"line":{"color":"#1a9696","strokeWidth":1}},"encoding":{"x":{"field":"x","type":"quantitative"},"y":{"field":"d","type":"quantitative","stack":null}}},
{"transform":[{"filter":"!isValid(datum.d)"}],"mark":{"type":"rule","color":"#666666","strokeWidth":0.9,"strokeDash":[4,2.7]},"encoding":{"x":{"field":"x","type":"quantitative"},"y":{"datum":0},"y2":{"datum":9.2}}},
{"transform":[{"filter":"!isValid(datum.d) && datum.p == 'FrP'"}],"mark":{"type":"rule","color":"#000000","strokeWidth":1.2},"encoding":{"y":{"datum":0}}}
]}}
],
"spacing":25,"center":true,
"resolve":{"scale":{"x":"independent","y":"independent"}}
}
